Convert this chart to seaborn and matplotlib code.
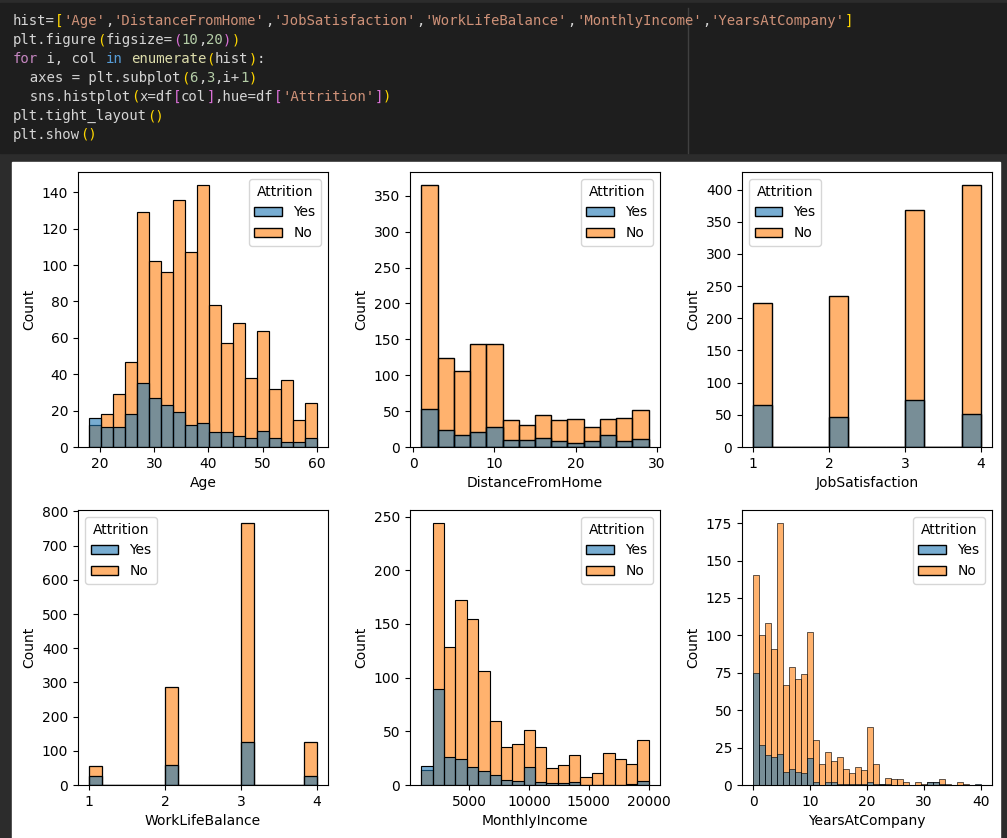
import numpy as np
import pandas as pd
import matplotlib
matplotlib.use('Agg')
import matplotlib.pyplot as plt
import seaborn as sns
from matplotlib.patches import Rectangle
from matplotlib.lines import Line2D

hist = ['Age', 'DistanceFromHome', 'JobSatisfaction', 'WorkLifeBalance', 'MonthlyIncome', 'YearsAtCompany']
attrition = ['Yes', 'No']

# binned columns: (min, max, number of bins) and counts per bin
age_range = (18, 60, 19)
age_no = [12, 18, 29, 47, 129, 102, 96, 136, 107, 144, 78, 57, 68, 38, 64, 32, 37, 15, 24]
age_yes = [16, 11, 11, 18, 35, 27, 23, 19, 12, 13, 8, 8, 6, 5, 9, 5, 3, 3, 5]

dist_range = (1, 29, 14)
dist_no = [365, 124, 106, 143, 143, 38, 30, 45, 37, 39, 28, 39, 41, 52]
dist_yes = [53, 23, 17, 21, 28, 10, 10, 12, 9, 6, 9, 17, 9, 11]

income_range = (1009, 19999, 20)
income_no = [14, 244, 129, 172, 155, 106, 60, 35, 38, 51, 35, 16, 19, 28, 7, 11, 30, 24, 20, 42]
income_yes = [18, 89, 26, 24, 17, 13, 9, 5, 4, 17, 3, 2, 2, 3, 0, 0, 0, 0, 1, 4]

years_range = (0, 40, 38)
years_no = [140, 100, 108, 91, 175, 67, 79, 71, 74, 102, 30, 14, 22, 16, 19, 11, 8, 12, 10, 39,
            14, 1, 5, 4, 4, 2, 0, 2, 1, 2, 2, 4, 1, 0, 2, 1, 0, 0]
years_yes = [75, 27, 20, 19, 21, 9, 11, 9, 8, 18, 2, 0, 2, 2, 1, 1, 1, 1, 1, 2,
             1, 1, 1, 0, 0, 0, 0, 0, 0, 2, 2, 1, 0, 0, 0, 0, 0, 1]

# discrete columns: levels and counts per level
levels = [1, 2, 3, 4]
job_range = (1, 4, 12)
job_no = [223, 234, 369, 407]
job_yes = [66, 46, 73, 52]

wlb_range = (1, 4, 18)
wlb_no = [55, 286, 766, 126]
wlb_yes = [25, 58, 127, 27]


def edges(r):
    return [float(v) for v in np.linspace(r[0], r[1], r[2] + 1)]


def centers(r):
    e = np.array(edges(r))
    return list((e[:-1] + e[1:]) / 2)


def frame(col, x, yes, no):
    return pd.DataFrame({
        col: list(x) + list(x),
        'count': list(yes) + list(no),
        'Attrition': ['Yes'] * len(yes) + ['No'] * len(no),
    })


panels = {
    'Age': (frame('Age', centers(age_range), age_yes, age_no), age_range, 'upper right'),
    'DistanceFromHome': (frame('DistanceFromHome', centers(dist_range), dist_yes, dist_no), dist_range, 'upper right'),
    'JobSatisfaction': (frame('JobSatisfaction', levels, job_yes, job_no), job_range, 'upper left'),
    'WorkLifeBalance': (frame('WorkLifeBalance', levels, wlb_yes, wlb_no), wlb_range, 'upper left'),
    'MonthlyIncome': (frame('MonthlyIncome', centers(income_range), income_yes, income_no), income_range, 'upper right'),
    'YearsAtCompany': (frame('YearsAtCompany', centers(years_range), years_yes, years_no), years_range, 'upper right'),
}

W, H = 1007, 838
fig = plt.figure(figsize=(W / 100, H / 100), dpi=100)
fig.patch.set_facecolor('#2c2c2c')

# code cell
fig.add_artist(Rectangle((0, 1 - 153 / H), 1, 150 / H, transform=fig.transFigure,
                         color='#1e1e1e', zorder=-2))
fig.add_artist(Line2D([688 / W, 688 / W], [1 - 8 / H, 1 - 153 / H], transform=fig.transFigure,
                      color='#404040', lw=1, zorder=-1))
# output area
fig.add_artist(Rectangle((12 / W, 0), 988 / W, (H - 162) / H, transform=fig.transFigure,
                         color='white', zorder=-2))

G = '#d4d4d4'; Y = '#ffd700'; S = '#ce9178'; P = '#da70d6'; N = '#b5cea8'
K = '#c586c0'; B = '#569cd6'; F = '#dcdcaa'

line1 = [('hist=', G), ('[', Y)]
for j, h in enumerate(hist):
    line1.append(("'" + h + "'", S))
    if j < len(hist) - 1:
        line1.append((',', G))
line1.append((']', Y))

code = [
    line1,
    [('plt.figure', G), ('(', Y), ('figsize=', G), ('(', P), ('10', N), (',', G), ('20', N), (')', P), (')', Y)],
    [('for', K), (' i, col ', G), ('in', B), (' ', G), ('enumerate', F), ('(', Y), ('hist', G), (')', Y), (':', G)],
    [('  axes = plt.subplot', G), ('(', Y), ('6', N), (',', G), ('3', N), (',i+', G), ('1', N), (')', Y)],
    [('  sns.histplot', G), ('(', Y), ('x=df', G), ('[', P), ('col', G), (']', P), (',hue=df', G),
     ('[', P), ("'Attrition'", S), (']', P), (')', Y)],
    [('plt.tight_layout', G), ('()', Y)],
    [('plt.show', G), ('()', Y)],
]

cw = 0.602 * 10.05 * 100 / 72
for n, line in enumerate(code):
    base = 25 + n * 19
    pos = 0
    for seg, c in line:
        fig.text((13 + pos * cw) / W, 1 - base / H, seg, color=c,
                 family='DejaVu Sans Mono', fontsize=10.05, va='baseline')
        pos += len(seg)

# axes grid (pixel positions)
lefts = [78, 410, 742]
tops = [172, 510]
aw, ah = 250, 275

for i, col in enumerate(hist):
    r, c = divmod(i, 3)
    ax = fig.add_axes([lefts[c] / W, 1 - (tops[r] + ah) / H, aw / W, ah / H])
    df, rng, loc = panels[col]
    sns.histplot(data=df, x=col, weights='count', hue='Attrition', hue_order=attrition,
                 bins=edges(rng), alpha=0.6, ax=ax)
    ax.set_ylabel('Count')
    sns.move_legend(ax, loc, title='Attrition')

fig.savefig('out.png', dpi=100)
